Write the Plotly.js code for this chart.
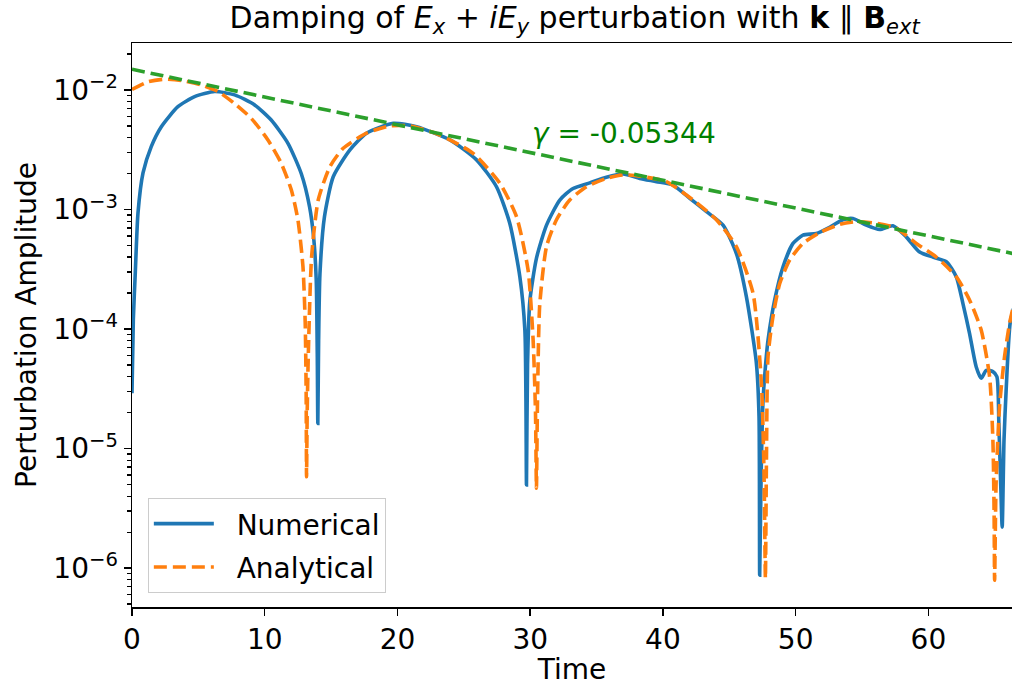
<!DOCTYPE html>
<html>
<head>
<meta charset="utf-8">
<script src="https://cdn.plot.ly/plotly-3.0.1.min.js"></script>
<style>html,body{margin:0;padding:0;background:#fff;}#chart{width:1012px;height:686px;}</style>
</head>
<body>
<div id="chart"></div>
<script>
// Numerical solution (time, amplitude)
const numT = [0, 0.1, 0.25, 0.45, 0.83, 1.45, 2.21, 3.46, 4.72, 6.23, 7.73, 9.24, 10.49, 11.75, 12.75, 13.38, 13.7, 13.88, 13.96, 14.0, 14.06, 14.16, 14.5, 15.16, 16.42, 17.67, 19.68, 21.44, 23.95, 25.96, 27.46, 28.46, 29.22, 29.6, 29.68, 29.72, 29.8, 29.97, 30.47, 31.23, 32.23, 33.23, 34.49, 35.74, 37.0, 38.25, 39.51, 40.76, 42.02, 43.28, 44.53, 45.53, 46.29, 47.04, 47.24, 47.29, 47.4, 47.54, 47.79, 47.92, 48.42, 49.05, 49.8, 50.55, 51.56, 52.56, 53.56, 54.32, 55.32, 56.33, 57.33, 58.33, 59.34, 60.34, 61.35, 62.1, 62.6, 63.1, 63.6, 63.98, 64.36, 64.86, 65.16, 65.31, 65.45, 65.56, 65.7, 65.86, 66.16, 66.5];
const numA = [2.9e-5, 1.2e-4, 3.0e-4, 9.3e-4, 2.02e-3, 3.36e-3, 4.93e-3, 7.25e-3, 8.8e-3, 9.7e-3, 9.1e-3, 7.5e-3, 5.6e-3, 3.58e-3, 2.0e-3, 1.05e-3, 5.6e-4, 2.57e-4, 6e-5, 1.62e-5, 8e-5, 2.9e-4, 8.7e-4, 1.88e-3, 3.15e-3, 4.35e-3, 5.26e-3, 4.93e-3, 3.82e-3, 2.6e-3, 1.55e-3, 7.67e-4, 2.74e-4, 9.8e-5, 2.5e-5, 4.95e-6, 5e-5, 1.7e-4, 3.9e-4, 7.4e-4, 1.2e-3, 1.5e-3, 1.67e-3, 1.86e-3, 1.98e-3, 1.82e-3, 1.71e-3, 1.6e-3, 1.24e-3, 9.6e-4, 7.4e-4, 4.3e-4, 1.86e-4, 5.2e-5, 1.85e-5, 8.7e-7, 6e-6, 2.5e-5, 5.9e-5, 8.1e-5, 1.75e-4, 3.32e-4, 5.2e-4, 6.1e-4, 6.3e-4, 7.1e-4, 8.2e-4, 8.4e-4, 7.4e-4, 6.8e-4, 7.3e-4, 5.9e-4, 4.4e-4, 4.0e-4, 3.66e-4, 2.74e-4, 1.64e-4, 9.2e-5, 4.84e-5, 3.87e-5, 4.5e-5, 4.4e-5, 4.0e-5, 1.62e-5, 5e-6, 2.2e-6, 1.2e-5, 3.1e-5, 1.12e-4, 1.6e-4];

// Analytical solution (time, amplitude)
const anaT = [0, 1.2, 2.46, 3.71, 5.22, 6.48, 7.73, 8.98, 10.24, 11.24, 12.0, 12.5, 12.88, 13.05, 13.12, 13.15, 13.2, 13.28, 13.53, 14.03, 14.91, 15.91, 17.67, 19.43, 20.93, 23.19, 25.7, 27.71, 28.97, 29.84, 30.22, 30.4, 30.47, 30.55, 30.72, 31.23, 31.98, 32.98, 34.24, 35.74, 37.0, 38.5, 40.26, 42.27, 44.03, 45.53, 46.79, 47.42, 47.62, 47.72, 47.8, 47.92, 48.29, 48.8, 49.55, 50.55, 51.81, 53.31, 54.57, 56.08, 57.58, 59.09, 60.6, 62.1, 63.1, 63.98, 64.61, 64.86, 64.95, 64.99, 65.1, 65.36, 65.74, 66.12, 66.5];
const anaA = [1.01e-2, 1.17e-2, 1.23e-2, 1.2e-2, 1.1e-2, 9.7e-3, 7.7e-3, 5.8e-3, 3.82e-3, 2.44e-3, 1.46e-3, 8.2e-4, 3.32e-4, 1.12e-4, 3e-5, 5.8e-6, 2e-5, 5.9e-5, 4.0e-4, 1.2e-3, 2.28e-3, 3.25e-3, 4.35e-3, 5.0e-3, 5.0e-3, 4.2e-3, 2.95e-3, 1.66e-3, 8.7e-4, 3.12e-4, 8.1e-5, 2e-5, 4.65e-6, 2.5e-5, 1.6e-4, 4.9e-4, 8.2e-4, 1.2e-3, 1.55e-3, 1.82e-3, 1.95e-3, 1.88e-3, 1.71e-3, 1.2e-3, 8.2e-4, 4.9e-4, 1.99e-4, 3.5e-5, 6e-6, 8.2e-7, 8e-6, 5.9e-5, 1.27e-4, 2.4e-4, 3.78e-4, 5.2e-4, 6.4e-4, 7.5e-4, 7.9e-4, 7.67e-4, 6.97e-4, 5.2e-4, 4.0e-4, 2.74e-4, 1.75e-4, 9.8e-5, 4.0e-5, 1.18e-5, 3e-6, 7.9e-7, 5e-6, 2.24e-5, 5.9e-5, 1.12e-4, 1.7e-4];

// Exponential damping fit envelope (end points)
const fitT = [0, 66.5];
const fitA = [0.0149, 4.25e-4];
const gammaLabel = '<i>γ</i> = -0.05344';

// Tick labels
const xTicks = [0, 10, 20, 30, 40, 50, 60];
const yTickVals = [1e-6, 1e-5, 1e-4, 1e-3, 1e-2];
const yTickText = ['10<sup>−6</sup>', '10<sup>−5</sup>', '10<sup>−4</sup>', '10<sup>−3</sup>', '10<sup>−2</sup>'];

const minorVals = [];
for (let e = -7; e <= -2; e++) {
  for (let m = 2; m <= 9; m++) minorVals.push(m * Math.pow(10, e));
}

const FS = 28;
const traces = [
  {x: numT, y: numA, type: 'scatter', mode: 'lines', name: '\u00a0\u00a0Numerical', legendgroup: 'n',
   line: {color: '#1f77b4', width: 3.6, shape: 'spline', smoothing: 0.6}},
  {x: anaT, y: anaA, type: 'scatter', mode: 'lines', name: '\u00a0\u00a0Analytical', legendgroup: 'a',
   line: {color: '#ff7f0e', width: 3.6, dash: '13px,6px', shape: 'spline', smoothing: 0.6}},
  {x: fitT, y: fitA, type: 'scatter', mode: 'lines', name: 'fit', showlegend: false,
   line: {color: '#2ca02c', width: 3.6, dash: '13px,6px'}}
];

const axisCommon = {
  showgrid: false, zeroline: false, showline: true, linecolor: '#000', linewidth: 1.5,
  ticks: 'outside', ticklen: 7, tickwidth: 1.5, tickcolor: '#000',
  tickfont: {family: 'DejaVu Sans', size: FS, color: '#000'}
};

const layout = {
  width: 1012, height: 686,
  margin: {l: 132, r: 0, t: 43, b: 79, pad: 0},
  paper_bgcolor: '#fff', plot_bgcolor: '#fff',
  font: {family: 'DejaVu Sans', size: FS, color: '#000'},
  title: {
    text: 'Damping of <i>E</i><sub><i>x</i></sub> + <i>iE</i><sub><i>y</i></sub> perturbation with <b>k</b> ∥ <b>B</b><sub><i>ext</i></sub>',
    x: 0.503, xref: 'paper', xanchor: 'center', y: 0.975, yref: 'container', yanchor: 'middle',
    font: {family: 'DejaVu Sans', size: 30, color: '#000'}
  },
  xaxis: Object.assign({}, axisCommon, {
    range: [0, 66.3], tickmode: 'array', tickvals: xTicks, mirror: true, automargin: false,
    title: {text: 'Time', font: {family: 'DejaVu Sans', size: FS, color: '#000'}, standoff: 2}
  }),
  yaxis: Object.assign({}, axisCommon, {
    type: 'log', range: [-6.326, -1.607], tickmode: 'array', tickvals: yTickVals, ticktext: yTickText, automargin: false,
    minor: {tickmode: 'array', tickvals: minorVals, ticks: 'outside', ticklen: 4, tickwidth: 1.1, tickcolor: '#000', showgrid: false},
    title: {text: 'Perturbation Amplitude', font: {family: 'DejaVu Sans', size: FS, color: '#000'}, standoff: 8}
  }),
  legend: {
    x: 0.018, y: 0.025, xanchor: 'left', yanchor: 'bottom',
    bgcolor: 'rgba(255,255,255,0.85)', bordercolor: '#cccccc', borderwidth: 1,
    font: {family: 'DejaVu Sans', size: FS, color: '#000'},
    itemwidth: 60, tracegroupgap: 4
  },
  annotations: [{
    x: 30, y: -2.36, xref: 'x', yref: 'y', text: gammaLabel, showarrow: false,
    xanchor: 'left', yanchor: 'middle', font: {family: 'DejaVu Sans', size: FS, color: '#008000'}
  }]
};

Plotly.newPlot('chart', traces, layout, {displayModeBar: false, staticPlot: true});
</script>
</body>
</html>
